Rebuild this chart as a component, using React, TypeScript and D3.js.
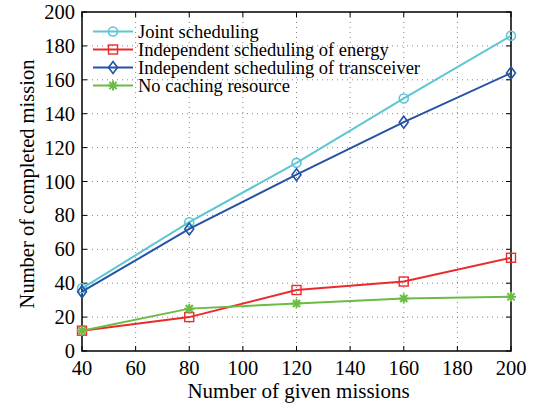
import React from 'react';
import * as d3 from 'd3';

const missions = [40, 80, 120, 160, 200];
const jointValues = [37, 76, 111, 149, 186];
const energyValues = [12, 20, 36, 41, 55];
const transceiverValues = [35, 72, 104, 135, 164];
const noCacheValues = [12, 25, 28, 31, 32];
const xTicks = [40, 60, 80, 100, 120, 140, 160, 180, 200];
const yTicks = [0, 20, 40, 60, 80, 100, 120, 140, 160, 180, 200];

const seriesList = [
    {name: 'Joint scheduling', values: jointValues, color: '#5cc6d3', marker: 'circle'},
    {name: 'Independent scheduling of energy', values: energyValues, color: '#ec2a2c', marker: 'square'},
    {name: 'Independent scheduling of transceiver', values: transceiverValues, color: '#2352a6', marker: 'diamond'},
    {name: 'No caching resource', values: noCacheValues, color: '#6bbb45', marker: 'star'},
];

const W = 533, H = 406;
const left = 82, right = 511, top = 12, bottom = 351;
const serif = {fontFamily: 'Liberation Serif'};

function Marker(props: {type: string, x: number, y: number, color: string}) {
    const {type, x, y, color} = props;
    if (type === 'circle') {
        return <circle cx={x} cy={y} r={4.5} fill="none" stroke={color} strokeWidth={1.6} />;
    }
    if (type === 'square') {
        return <rect x={x - 4.5} y={y - 4.5} width={9} height={9} fill="none" stroke={color} strokeWidth={1.4} />;
    }
    if (type === 'diamond') {
        return <path d={`M${x},${y - 6}L${x + 4.5},${y}L${x},${y + 6}L${x - 4.5},${y}Z`} fill="none" stroke={color} strokeWidth={1.6} />;
    }
    // star: plus + x
    const s = 5;
    return <path d={`M${x - s},${y}L${x + s},${y}M${x},${y - s}L${x},${y + s}M${x - 3.6},${y - 3.6}L${x + 3.6},${y + 3.6}M${x - 3.6},${y + 3.6}L${x + 3.6},${y - 3.6}`}
        stroke={color} strokeWidth={2} fill="none" />;
}

export default function App() {
    const x = d3.scaleLinear().domain([40, 200]).range([left, right]);
    const y = d3.scaleLinear().domain([0, 200]).range([bottom, top]);
    const line = d3.line<number>()
        .x((d, i) => x(missions[i]))
        .y(d => y(d));

    return (
        <svg width={W} height={H} style={{position: 'absolute', left: 0, top: 0, background: '#fff'}}>
            {/* grid */}
            {xTicks.slice(1, -1).map(t =>
                <line key={'gx' + t} x1={x(t)} x2={x(t)} y1={top} y2={bottom} stroke="#666" strokeWidth={0.8} strokeDasharray="1,4" />)}
            {yTicks.slice(1, -1).map(t =>
                <line key={'gy' + t} x1={left} x2={right} y1={y(t)} y2={y(t)} stroke="#666" strokeWidth={0.8} strokeDasharray="1,4" />)}
            {/* ticks */}
            {xTicks.map(t => <g key={'tx' + t}>
                <line x1={x(t)} x2={x(t)} y1={bottom} y2={bottom - 5} stroke="#000" />
                <line x1={x(t)} x2={x(t)} y1={top} y2={top + 5} stroke="#000" />
                <text x={x(t)} y={375} textAnchor="middle" style={serif} fontSize={20.5}>{t}</text>
            </g>)}
            {yTicks.map(t => <g key={'ty' + t}>
                <line x1={left} x2={left + 5} y1={y(t)} y2={y(t)} stroke="#000" />
                <line x1={right} x2={right - 5} y1={y(t)} y2={y(t)} stroke="#000" />
                <text x={left - 7} y={y(t) + 7} textAnchor="end" style={serif} fontSize={20.5}>{t}</text>
            </g>)}
            <rect x={left} y={top} width={right - left} height={bottom - top} fill="none" stroke="#000" strokeWidth={1.5} />
            {/* series */}
            {seriesList.map(s => <g key={s.name}>
                <path d={line(s.values) || ''} fill="none" stroke={s.color} strokeWidth={2} />
                {s.values.map((v, i) => <Marker key={i} type={s.marker} x={x(missions[i])} y={y(v)} color={s.color} />)}
            </g>)}
            {/* legend */}
            {seriesList.map((s, i) => {
                const ly = 31.5 + i * 18;
                return <g key={'lg' + s.name}>
                    <line x1={93} x2={133} y1={ly} y2={ly} stroke={s.color} strokeWidth={2} />
                    <Marker type={s.marker} x={113} y={ly} color={s.color} />
                    <text x={138} y={ly + 6} style={serif} fontSize={18.5}>{s.name}</text>
                </g>;
            })}
            <text x={(left + right) / 2 + 2} y={398} textAnchor="middle" style={serif} fontSize={21}>Number of given missions</text>
            <text transform={`translate(34,184) rotate(-90)`} textAnchor="middle" style={serif} fontSize={20.5}>Number of completed mission</text>
        </svg>
    );
}
